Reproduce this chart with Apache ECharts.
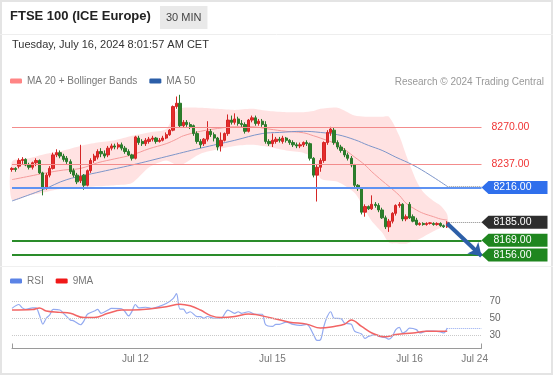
<!DOCTYPE html>
<html><head><meta charset="utf-8">
<script src="https://cdn.jsdelivr.net/npm/echarts@6/dist/echarts.min.js"></script>
<style>html,body{margin:0;padding:0;background:#fff}#c{width:553px;height:375px}</style>
</head><body><div id="c"></div>
<script>
// ---------- DATA ----------
const tickLabels = ['Jul 12', 'Jul 15', 'Jul 16', 'Jul 24'];
const tickIndex = [36, 76, 116, 135];
const slotCount = 138;
const categories = Array.from({length: slotCount}, (_, i) => 'c' + i);

// candles: [open, close, low, high]
const candles = [
[8232,8233,8230,8234],[8233,8232,8230,8234],[8235,8240,8233,8242],[8240,8241,8237,8243],[8241,8236,8235,8242],
[8236,8234,8232,8238],[8234,8238,8232,8239],[8238,8240,8235,8242],[8240,8229,8228,8241],[8229,8216,8209,8230],
[8216,8227,8214,8229],[8227,8233,8225,8235],[8233,8245,8232,8247],[8245,8247,8243,8250],[8247,8244,8242,8249],
[8244,8241,8239,8246],[8242,8239,8237,8244],[8239,8230,8228,8241],[8231,8227,8225,8233],[8227,8221,8219,8229],
[8222,8226,8220,8254],[8227,8218,8214,8228],[8218,8231,8217,8232],[8231,8240,8229,8242],[8240,8244,8238,8246],
[8243,8248,8241,8250],[8248,8246,8243,8251],[8246,8244,8242,8249],[8245,8251,8243,8253],[8251,8253,8249,8255],
[8253,8252,8250,8255],[8252,8254,8250,8256],[8254,8251,8249,8256],[8251,8248,8246,8253],[8248,8245,8244,8250],
[8245,8242,8240,8246],[8242,8261,8241,8262],[8260,8256,8254,8262],[8257,8255,8253,8259],[8255,8258,8253,8260],
[8257,8259,8255,8261],[8259,8260,8257,8262],[8260,8257,8255,8261],[8257,8258,8256,8260],[8258,8260,8257,8262],
[8260,8263,8259,8265],[8263,8267,8262,8268],[8267,8288,8266,8289],[8288,8291,8286,8297],[8291,8271,8269,8298.5],
[8271,8274,8269,8276],[8274,8272,8270,8276],[8272,8270,8268,8274],[8271,8264,8262,8272],[8264,8257,8255,8266],
[8257,8254,8251,8259],[8255,8259,8253,8260],[8259,8266,8257,8275],[8266,8263,8261,8268],[8263,8260,8257,8265],
[8260,8252,8249,8261],[8253,8258,8248,8265],[8258,8264,8257,8265],[8264,8276,8262,8281],[8276,8274,8272,8280],
[8274,8277,8272,8282],[8277,8273,8271,8279],[8273,8272,8270,8276],[8272,8266,8264,8274],[8266,8276,8265,8277],
[8276,8278,8274,8280],[8278,8273,8271,8280],[8273,8275,8271,8277],[8275,8272,8270,8277],[8272,8257,8255,8275],
[8257,8255,8253,8259],[8255,8258,8252,8264],[8257,8259,8255,8261],[8259,8258,8256,8261],[8257,8260,8255,8262],
[8260,8258,8256,8261],[8258,8256,8254,8259],[8256,8254,8252,8258],[8254,8253,8251,8256],[8253,8254,8251,8256],
[8254,8256,8252,8257],[8256,8255,8253,8258],[8255,8242,8240,8256],[8242,8227,8225,8243],[8227,8234,8203.5,8236],
[8234,8240,8230,8242],[8240,8256,8238,8257],[8256,8265,8254,8267],[8265,8268,8262,8270],[8267,8256,8254,8269],
[8256,8252,8250,8258],[8252,8249,8247,8254],[8249,8245,8243,8251],[8245,8242,8240,8247],[8242,8236,8234,8244],
[8236,8218,8216,8237],[8218,8215,8213,8219],[8215,8194,8192,8216],[8194,8199,8190,8201],[8199,8197,8196,8200],
[8197,8201,8196,8209],[8201,8200,8198,8203],[8200,8196,8194,8202],[8196,8189,8188,8198],[8189,8181,8179,8191],
[8181,8186,8176.5,8188],[8186,8193,8184,8194],[8193,8200,8191,8201],[8200,8201,8198,8203],[8201,8188,8186,8202],
[8188,8190,8186,8192],[8201,8189,8188,8203],[8190,8186,8185,8192],[8187,8183,8182,8189],[8183,8184,8182,8185],
[8184,8183,8182,8185],[8183,8184,8182,8185],[8184,8184.5,8183,8185],[8184,8183,8182,8185],[8183,8184,8182,8185],
[8184,8182,8181,8185],[8182,8181,8180,8183],[8181,8185,8180,8186]
];

// MA20 + Bollinger bands (sampled at candle indices)
const maIdx   = [0,5,10,15,20,25,30,35,40,45,48,50,55,60,65,70,75,80,85,88,90,95,100,103,105,108,110,113,115,118,120,123,125,127];
const ma20    = [8223,8226,8229,8231.5,8233,8238,8241.5,8245,8250.5,8255,8259,8262,8266,8268.5,8270,8270,8268,8266,8264.7,8262,8260,8254,8243,8236,8230,8222,8217,8209,8202,8196,8193,8190,8188,8187];
const bbUpper = [8239,8242,8246,8249,8253,8256,8258,8262,8265,8268,8285,8287,8287,8286,8285,8286,8284,8283,8283,8284,8286,8287,8280,8279,8279,8279,8279,8262,8245,8222,8212,8204,8200,8192];
const bbLower = [8205,8209,8212,8215,8216,8217,8218,8220,8234,8240,8236,8237,8246,8250,8253,8254,8252,8249,8247,8242,8224,8221,8211,8196,8186,8176,8167,8166,8166,8169,8172,8177,8180,8182];

// MA50
const ma50Idx = [0,9,16,26,35,45,55,65,73,78,85,90,95,100,104,108,112,117,122,127];
const ma50    = [8204,8214,8223,8230,8236,8243.5,8251,8258,8264,8265,8266,8265,8263,8258.5,8253.5,8249,8243,8236,8227,8217];

// levels
const resistLevels = [8270, 8237];
const pivotLevel = 8216;
const lastPrice = 8185;
const supportLevels = [8169, 8156];
const ma50Last = 8217;
const arrowTarget = 8155;

// RSI
const rsiIdx = [0,2,3,4,6,7,8,9,10,11,12,14,15,17,18,20,21,22,24,25,26,28,29,32,33,34,35,36,37,39,41,43,45,47,48,49,50,51,52,54,55,56,57,59,61,63,65,66,67,69,71,73,74,76,77,78,80,82,84,86,88,89,90,91,92,93,94,96,97,99,100,102,103,104,106,107,109,110,111,112,113,114,115,116,118,119,121,123,125,126,127];
const rsi    = [61.4,65.9,62,60.2,62,62,53.8,43.2,50,53.8,60.2,59.5,55.7,48.1,47,42.5,47,54.6,58.3,60.2,55.7,59.5,61.4,61,57.5,52.7,58,65.9,62,62.7,61.4,63.7,67,72.7,78.4,60.6,60.6,55.7,57.5,51.9,51.9,50,52,50,50,59.5,55.7,57.5,55.7,57.5,54.6,54.6,42.5,40.5,43,43,45.5,43,41.7,43,31.1,24.3,25,40.5,51.9,57.5,50,49.6,44.5,43,34.9,31.9,26.6,29,31,29,27.5,25.8,29,36.8,39.5,32.9,35,38.5,36.8,33,35,35,34.2,33,38.7];
const ma9Idx = [0,6,8,10,14,17,21,24,28,32,35,40,45,49,52,55,58,61,65,69,76,81,86,90,94,97,99,102,105,109,112,117,121,127];
const ma9    = [59.5,60,62,58.3,56.8,55.7,50.8,50.8,55.7,59.5,59.5,60.6,63.2,66.3,64.4,59.5,53,50.8,51.9,55,50,45.5,43.2,38.7,40.5,43,48.1,40.5,33,28.5,31.1,33,34.9,34.9];
const rsiTicks = [70, 50, 30];
const rsiLast = 38.7;

// ---------- CHART ----------
const lastIdx = candles.length - 1;
const endIdx = slotCount - 1;
const pair = (xs, ys) => xs.map((x, k) => [x, ys[k]]);
const FONT = 'Liberation Sans, Arial, sans-serif';
const boxPath = 'path://M0,6.5 L7,0 L66,0 L66,13 L7,13 Z';
const box = (v, color) => ({
  coord: [endIdx, v], symbol: boxPath, symbolSize: [66, 13], symbolKeepAspect: false,
  symbolOffset: [33, 0], itemStyle: {color: color},
  label: {show: true, position: 'inside', offset: [-2, 0], formatter: v.toFixed(2), color: '#fff', fontSize: 10.5, fontFamily: FONT}
});

const option = {
  animation: false,
  textStyle: {fontFamily: FONT},
  title: [
    {text: 'FTSE 100 (ICE Europe)', left: 10, top: 10, padding: 0, textStyle: {fontSize: 13, fontWeight: 'bold', color: '#222', fontFamily: FONT}},
    {text: '30 MIN', left: 160, top: 6, padding: [6, 6], backgroundColor: '#e9e9e9', textStyle: {fontSize: 11, fontWeight: 'normal', color: '#444', fontFamily: FONT}},
    {text: 'Tuesday, July 16, 2024 8:01:57 AM CET', left: 12, top: 39, padding: 0, textStyle: {fontSize: 11, fontWeight: 'normal', color: '#333', fontFamily: FONT}},
    {text: 'Research © 2024 Trading Central', right: 9, top: 77, padding: 0, textStyle: {fontSize: 10, fontWeight: 'normal', color: '#999', fontFamily: FONT}}
  ],
  legend: [
    {left: 10, top: 76, padding: 0, itemWidth: 12, itemHeight: 5, itemGap: 12, icon: 'roundRect', selectedMode: false,
     textStyle: {fontSize: 10, color: '#777', fontFamily: FONT},
     data: [{name: 'MA 20 + Bollinger Bands', itemStyle: {color: '#ff8585'}}, {name: 'MA 50', itemStyle: {color: '#2b5ea8'}}]},
    {left: 10, top: 276, padding: 0, itemWidth: 12, itemHeight: 5, itemGap: 12, icon: 'roundRect', selectedMode: false,
     textStyle: {fontSize: 10, color: '#777', fontFamily: FONT},
     data: [{name: 'RSI', itemStyle: {color: '#5b83e6'}}, {name: '9MA', itemStyle: {color: '#f01818'}}]}
  ],
  graphic: [
    {type: 'rect', silent: true, shape: {x: 1, y: 1, width: 551, height: 373}, style: {fill: 'none', stroke: '#e4e4e4', lineWidth: 2}},
    {type: 'line', silent: true, shape: {x1: 0, y1: 34.5, x2: 553, y2: 34.5}, style: {stroke: '#eeeeee', lineWidth: 1}},
    {type: 'line', silent: true, shape: {x1: 0, y1: 266.5, x2: 553, y2: 266.5}, style: {stroke: '#f0f0f0', lineWidth: 1}}
  ],
  grid: [
    {left: 12, right: 71.5, top: 92, height: 173},
    {left: 12, right: 71.5, top: 288, height: 60.5}
  ],
  xAxis: [
    {gridIndex: 0, type: 'category', data: categories, boundaryGap: false, show: false},
    {gridIndex: 1, type: 'category', data: categories, boundaryGap: false,
     axisLine: {show: true, lineStyle: {color: '#9a9a9a', width: 1}},
     axisTick: {show: true, inside: true, length: 5, lineStyle: {color: '#9a9a9a'}, interval: (i) => i === 0 || i === endIdx},
     axisLabel: {show: true, color: '#777', fontSize: 10, margin: 6, fontFamily: FONT,
       interval: (i) => tickIndex.indexOf(i) >= 0,
       formatter: (v, i) => { const k = tickIndex.indexOf(i); return k >= 0 ? tickLabels[k] : ''; }},
     splitLine: {show: false}}
  ],
  yAxis: [
    {gridIndex: 0, type: 'value', min: 8147, max: 8301, show: false, splitLine: {show: false}},
    {gridIndex: 1, type: 'value', min: 15, max: 85, show: false, splitLine: {show: false}}
  ],
  series: [
    {
      type: 'custom', name: 'bands', xAxisIndex: 0, yAxisIndex: 0, silent: true, z: 1,
      data: pair(maIdx, ma20),
      renderItem: function (params, api) {
        if (params.dataIndex !== 0) return null;
        const pts = [];
        for (let k = 0; k < maIdx.length; k++) pts.push(api.coord([maIdx[k], bbUpper[k]]));
        for (let k = maIdx.length - 1; k >= 0; k--) pts.push(api.coord([maIdx[k], bbLower[k]]));
        return {type: 'polygon', shape: {points: pts, smooth: 0.25}, style: {fill: 'rgba(255,110,110,0.2)'}};
      }
    },
    {type: 'line', name: 'MA 20 + Bollinger Bands', xAxisIndex: 0, yAxisIndex: 0, data: pair(maIdx, ma20), smooth: 0.4,
     showSymbol: false, silent: true, z: 2, lineStyle: {color: '#f49a9a', width: 1}, itemStyle: {color: '#ff8585'}},
    {type: 'line', name: 'MA 50', xAxisIndex: 0, yAxisIndex: 0, data: pair(ma50Idx, ma50), smooth: 0.4,
     showSymbol: false, silent: true, z: 2, lineStyle: {color: '#7d95c9', width: 1}, itemStyle: {color: '#2b5ea8'}},
    {
      type: 'candlestick', name: 'FTSE', xAxisIndex: 0, yAxisIndex: 0, data: candles, barWidth: 2.8, clip: false, z: 3,
      itemStyle: {color: '#e52c2c', color0: '#2b7f2b', borderColor: '#d42525', borderColor0: '#2b7a2b', borderWidth: 1},
      markLine: {
        silent: true, symbol: ['none', 'none'], animation: false,
        label: {position: 'end', distance: 10, fontSize: 10.5, fontFamily: FONT},
        data: [
          ...resistLevels.map(v => ({yAxis: v, lineStyle: {color: '#f38c8c', width: 1, type: 'solid'},
                                     label: {show: true, formatter: v.toFixed(2), color: '#f03535'}})),
          {yAxis: pivotLevel, lineStyle: {color: '#5f93f2', width: 2, type: 'solid'}, label: {show: false}},
          ...supportLevels.map(v => ({yAxis: v, lineStyle: {color: '#2a8c2a', width: 2, type: 'solid'}, label: {show: false}})),
          [{coord: [lastIdx, lastPrice], lineStyle: {color: '#8a8a8a', width: 1, type: 'dotted'}, label: {show: false}}, {coord: [endIdx, lastPrice]}],
          [{coord: [lastIdx, ma50Last], lineStyle: {color: '#9a9a9a', width: 1, type: 'dotted'}, label: {show: false}}, {coord: [endIdx, ma50Last]}],
          [{coord: [lastIdx, lastPrice - 1], symbol: 'none', lineStyle: {color: '#2d5fa8', width: 4, type: 'solid'}, label: {show: false}},
           {coord: [endIdx, arrowTarget], symbol: 'arrow', symbolSize: 12}]
        ]
      },
      markPoint: {
        silent: true, animation: false,
        data: [box(pivotLevel, '#2f6fec'), box(lastPrice, '#2e2e2e'), box(supportLevels[0], '#1f861f'), box(supportLevels[1], '#1f861f')]
      }
    },
    {
      type: 'line', name: 'RSI', xAxisIndex: 1, yAxisIndex: 1, data: pair(rsiIdx, rsi), smooth: 0.3, clip: false,
      showSymbol: false, silent: true, lineStyle: {color: '#93aaf0', width: 1.2}, itemStyle: {color: '#5b83e6'},
      markLine: {
        silent: true, symbol: ['none', 'none'], animation: false,
        label: {position: 'end', distance: 8, fontSize: 10, color: '#666', fontFamily: FONT},
        data: [
          ...rsiTicks.map(v => ({yAxis: v, lineStyle: {color: '#c9c9c9', width: 1, type: 'dotted'}, label: {show: true, formatter: String(v)}})),
          [{coord: [lastIdx, rsiLast], lineStyle: {color: '#93aaf0', width: 1, type: 'dotted'}, label: {show: false}}, {coord: [endIdx, rsiLast]}]
        ]
      }
    },
    {type: 'line', name: '9MA', xAxisIndex: 1, yAxisIndex: 1, data: pair(ma9Idx, ma9), smooth: 0.4,
     showSymbol: false, silent: true, lineStyle: {color: '#f26464', width: 1.5}, itemStyle: {color: '#f01818'}}
  ]
};
const chart = echarts.init(document.getElementById('c'), null, {renderer: 'canvas'});
chart.setOption(option);
</script>
</body></html>
